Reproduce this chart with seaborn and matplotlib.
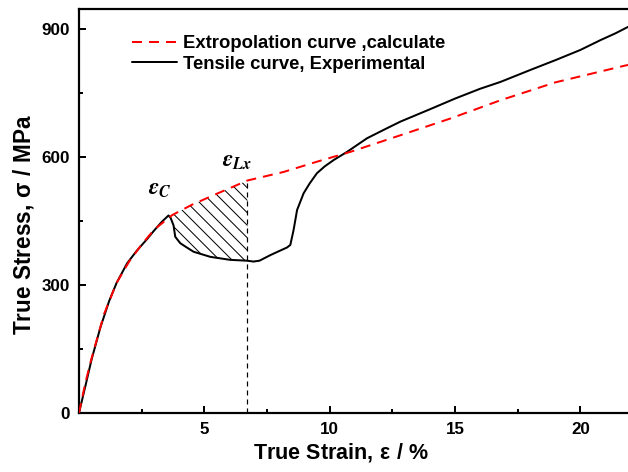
import numpy as np
import pandas as pd
import matplotlib
matplotlib.use("Agg")
import matplotlib.pyplot as plt
from matplotlib.collections import LineCollection
import seaborn as sns

# ---- data ----
exp_strain = [0, 0.25, 0.5, 0.85, 1.2, 1.5, 1.92, 2.3, 2.72, 3.0, 3.3, 3.57,
              3.65, 3.77, 3.84, 4.04, 4.3, 4.57, 5.24, 6.03, 6.7, 6.96, 7.2,
              7.63, 8.0, 8.3, 8.43, 8.56, 8.7, 8.96, 9.2, 9.49, 9.8, 10.16,
              10.69, 11.49, 12.2, 12.82, 14.0, 15.0, 16.0, 16.81, 18.0, 19.0,
              20.0, 20.8, 21.4, 21.9]
exp_stress = [0, 62, 125, 200, 262, 305, 351, 380, 408, 428, 448, 463,
              458, 440, 413, 398, 388, 378, 366, 359, 357, 355, 357,
              370, 380, 388, 394, 429, 476, 515, 538, 562, 578, 593,
              612, 644, 665, 683, 712, 737, 760, 776, 804, 827,
              851, 874, 890, 905]

ext_strain = [0, 0.25, 0.5, 1.0, 1.5, 2.0, 2.5, 3.0, 3.72, 4.5, 5.5, 6.72,
              8.16, 9.49, 10.82, 12.82, 14.8, 16.81, 19.0, 21.9]
ext_stress = [0, 70, 128, 232, 305, 355, 395, 430, 464, 488, 514, 545,
              565, 589, 612, 651, 690, 733, 775, 816]

eps_c = 3.57
eps_lx = 6.72

x_ticks = [5, 10, 15, 20]
y_ticks = [0, 300, 600, 900]

legend_labels = ["Extropolation curve ,calculate", "Tensile curve, Experimental"]

# ---- style ----
sns.set_theme(style="ticks")
plt.rcParams["font.family"] = ["Liberation Sans", "DejaVu Sans"]
plt.rcParams["font.weight"] = "bold"
plt.rcParams["text.color"] = "black"
plt.rcParams["axes.labelcolor"] = "black"
plt.rcParams["xtick.color"] = "black"
plt.rcParams["ytick.color"] = "black"
plt.rcParams["mathtext.fontset"] = "custom"
plt.rcParams["mathtext.rm"] = "Liberation Sans"
plt.rcParams["mathtext.bf"] = "Liberation Sans:bold"
plt.rcParams["mathtext.it"] = "Liberation Sans:italic"

DPI = 72
fig = plt.figure(figsize=(628 / DPI, 472 / DPI), dpi=DPI)
ax = fig.add_axes([79 / 628, 59 / 472, 549 / 628, 404 / 472])

ext_df = pd.DataFrame({"strain": ext_strain, "stress": ext_stress})
exp_df = pd.DataFrame({"strain": exp_strain, "stress": exp_stress})

sns.lineplot(data=exp_df, x="strain", y="stress", ax=ax, color="black",
             lw=2.0, sort=False, estimator=None, label=legend_labels[1], zorder=3)
sns.lineplot(data=ext_df, x="strain", y="stress", ax=ax, color="#ff0000",
             lw=2.0, sort=False, estimator=None, label=legend_labels[0], zorder=4,
             ls=(0, (5, 3.5)))

ax.set_xlim(0, 21.9)
ax.set_ylim(0, 947)

# hatched area between extrapolation and experimental curve
xs = np.linspace(eps_c, eps_lx, 200)
upper = np.interp(xs, ext_strain, ext_stress)
lower = np.interp(xs, exp_strain, exp_stress)
region = ax.fill_between(xs, lower, upper, where=upper > lower, interpolate=True,
                         facecolor="none", edgecolor="none", lw=0, zorder=2)
# diagonal hatch lines (12 px apart horizontally, 45 deg) clipped to the region
p0 = ax.transData.transform((eps_c, 0))
p1 = ax.transData.transform((eps_lx, 947))
segs = []
for c in np.arange(p0[0] - 400, p1[0] + 400, 12.5):
    a = ax.transData.inverted().transform([(c, p1[1]), (c + 400, p1[1] - 400)])
    segs.append(a)
hatch = LineCollection(segs, colors="black", linewidths=1.0, zorder=2)
ax.add_collection(hatch)
hatch.set_clip_path(region.get_paths()[0], ax.transData)

# vertical dashed line at eps_Lx
ax.vlines(eps_lx, 0, np.interp(eps_lx, ext_strain, ext_stress), colors="black",
          lw=1.2, linestyles=[(0, (4.2, 3.3))], zorder=2)

# annotations
ax.text(2.76, 511, r"$\varepsilon_C$", fontsize=23, math_fontfamily="stix",
        ha="left", va="baseline")
ax.text(5.72, 577, r"$\varepsilon_{Lx}$", fontsize=23, math_fontfamily="stix",
        ha="left", va="baseline")

ax.set_xticks(x_ticks)
ax.set_yticks(y_ticks)
ax.set_xticks([2.5, 7.5, 12.5, 17.5], minor=True)
ax.set_yticks([150, 450, 750], minor=True)
ax.tick_params(axis="both", which="major", direction="in", length=7, width=2,
               labelsize=17, pad=9, colors="black")
ax.tick_params(axis="both", which="minor", direction="in", length=4, width=2,
               colors="black")
ax.tick_params(axis="x", which="major", pad=9)
for lab in ax.get_xticklabels() + ax.get_yticklabels():
    lab.set_fontweight("bold")

for side in ["left", "bottom", "top"]:
    ax.spines[side].set_linewidth(2.2)
    ax.spines[side].set_color("black")
ax.spines["right"].set_visible(False)

ax.set_xlabel(r"$\mathbf{True\ Strain,}\,\mathrm{\varepsilon\ /\ \%}$",
              fontsize=21.5)
ax.set_ylabel(r"$\mathbf{True\ Stress,}\,\mathrm{\sigma\ /}\ \mathbf{MPa}$",
              fontsize=22.5)
ax.xaxis.set_label_coords((341 - 79) / 549, -(465 - 413 - 6) / 404)
ax.yaxis.set_label_coords(-(79 - 24) / 549, (413 - 224) / 404)
ax.xaxis.label.set_va("baseline")
ax.yaxis.label.set_va("center")

handles, labels = ax.get_legend_handles_labels()
order = [labels.index(legend_labels[0]), labels.index(legend_labels[1])]
leg = ax.legend([handles[i] for i in order], [labels[i] for i in order],
                loc="upper left", bbox_to_anchor=(0.0965, 0.935), frameon=False,
                fontsize=18.5, handlelength=2.45, handletextpad=0.3,
                labelspacing=0.2, borderpad=0, borderaxespad=0)
for t in leg.get_texts():
    t.set_fontweight("bold")
    t.set_color("black")

fig.savefig("out.png", dpi=DPI)
